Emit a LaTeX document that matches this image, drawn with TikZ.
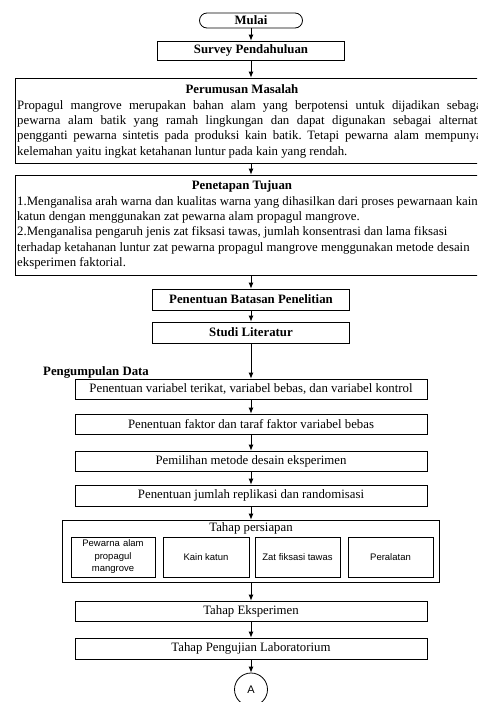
\documentclass[tikz,border=0pt]{standalone}
\usepackage{fontspec}
\setmainfont{Liberation Serif}
\newfontfamily\arialfont{Liberation Sans}
\usetikzlibrary{arrows.meta,positioning}
\frenchspacing

\begin{document}
\begin{tikzpicture}[x=1pt,y=-1pt]
\tikzstyle{every node}=[font=\fontsize{12.8}{15.2}\selectfont]
\tikzstyle{proc}=[draw,line width=0.8pt,minimum height=20pt,inner sep=0pt]
\tikzstyle{ttl}=[font=\fontsize{12.8}{15.2}\selectfont\bfseries]
\tikzstyle{arr}=[line width=0.8pt,-{Latex[length=6pt,width=5pt]}]
\tikzstyle{subbox}=[draw,line width=0.8pt,minimum height=40pt,inner sep=1pt,align=center,font=\arialfont\fontsize{9.5}{12.5}\selectfont]

\useasboundingbox (0,0) rectangle (477,702);
\clip (0,0) rectangle (477,702);
\coordinate (axis) at (251,0);

\node[proc,ttl,rounded corners=7.5pt,minimum width=103pt,minimum height=15pt] (mulai) at (251,20.5) {Mulai};
\node[proc,ttl,minimum width=187pt,minimum height=19pt] (survey) at (251,50.5) {Survey Pendahuluan};

% Perumusan Masalah
\node[proc,minimum width=472pt,minimum height=85pt] (rumus) at (251,120.5) {};
\node[ttl] (rumusT) at (242,89) {Perumusan Masalah};
\node[anchor=north west,inner sep=0pt,align=left] (rumusP) at (17,100.5) {%
  \makebox[468pt][s]{Propagul mangrove merupakan bahan alam yang berpotensi untuk dijadikan sebagai}\\
  \makebox[468pt][s]{pewarna alam batik yang ramah lingkungan dan dapat digunakan sebagai alternatif}\\
  \makebox[468pt][s]{pengganti pewarna sintetis pada produksi kain batik. Tetapi pewarna alam mempunyai}\\
  kelemahan yaitu ingkat ketahanan luntur pada kain yang rendah.};

% Penetapan Tujuan
\node[proc,minimum width=472pt,minimum height=100pt] (tujuan) at (251,225) {};
\node[ttl] (tujuanT) at (242,186) {Penetapan Tujuan};
\node[anchor=north west,inner sep=0pt,align=left] (tujuanP) at (17,196.5) {%
  1.Menganalisa arah warna dan kualitas warna yang dihasilkan dari proses pewarnaan kain\\
  katun dengan menggunakan zat pewarna alam propagul mangrove.\\
  2.Menganalisa pengaruh jenis zat fiksasi tawas, jumlah konsentrasi dan lama fiksasi\\
  terhadap ketahanan luntur zat pewarna propagul mangrove menggunakan metode desain\\
  eksperimen faktorial.};

\node[proc,ttl,minimum width=197pt,minimum height=21pt] (batas) at (251,299.5) {Penentuan Batasan Penelitian};
\node[proc,ttl,minimum width=197pt,minimum height=21pt] (studi) at (251,332.5) {Studi Literatur};

\node[ttl,anchor=west,inner sep=0pt] (kumpul) at (43,372) {Pengumpulan Data};
\node[proc,minimum width=352pt] (var) at (251,389) {Penentuan variabel terikat, variabel bebas, dan variabel kontrol};
\node[proc,minimum width=352pt] (faktor) at (251,424) {Penentuan faktor dan taraf faktor variabel bebas};
\node[proc,minimum width=352pt] (metode) at (251,461) {Pemilihan metode desain eksperimen};
\node[proc,minimum width=352pt,minimum height=21pt] (repl) at (251,495.5) {Penentuan jumlah replikasi dan randomisasi};

% Tahap persiapan
\node[proc,minimum width=377pt,minimum height=62pt] (siap) at (251,551) {};
\node (siapT) at (251,528) {Tahap persiapan};
\node[subbox,minimum width=84pt,text width=80pt] (pewarna) at (113,557) {Pewarna alam\\ propagul\\ mangrove};
\node[subbox,minimum width=86pt] (kain) at (206,557) {Kain katun};
\node[subbox,minimum width=85pt] (zat) at (297.5,557) {Zat fiksasi tawas};
\node[subbox,minimum width=85pt] (alat) at (390.5,557) {Peralatan};

\node[proc,minimum width=352pt] (eksp) at (251,611) {Tahap Eksperimen};
\node[proc,minimum width=352pt,minimum height=21pt] (uji) at (251,648.5) {Tahap Pengujian Laboratorium};
\node[draw,circle,line width=0.8pt,minimum size=33pt,inner sep=0pt,font=\arialfont\fontsize{11}{13}\selectfont] (A) at (251,689.5) {A};

\draw[arr] (mulai) -- (survey);
\draw[arr] (survey) -- (rumus.north -| axis);
\draw[arr] (rumus.south -| axis) -- (tujuan.north -| axis);
\draw[arr] (tujuan.south -| axis) -- (batas);
\foreach \a/\b in {batas/studi,studi/var,var/faktor,faktor/metode,metode/repl,repl/siap,siap/eksp,eksp/uji,uji/A}
  \draw[arr] (\a) -- (\b);

\end{tikzpicture}
\end{document}
